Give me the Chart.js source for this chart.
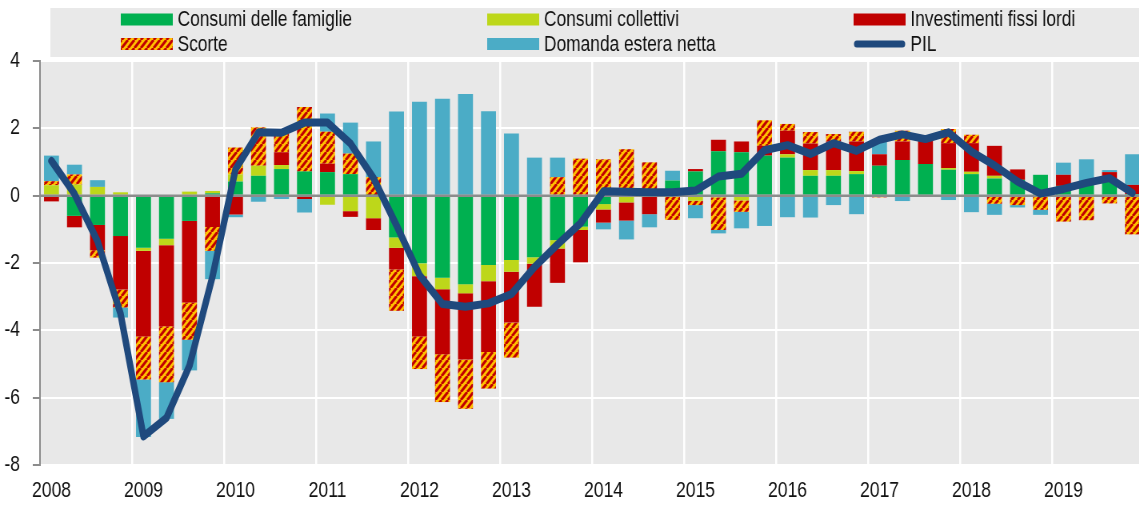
<!DOCTYPE html>
<html lang="it">
<head>
<meta charset="UTF-8">
<title>Contributi alla crescita del PIL</title>
<script src="https://cdn.jsdelivr.net/npm/chart.js@4.4.1/dist/chart.umd.min.js"></script>
<style>
  html, body { margin: 0; padding: 0; overflow: hidden; background: #fff; }
  /* the source picture is squeezed sideways: draw wide, squeeze back */
  #wrap { width: 1430px; height: 506px; transform: scaleX(0.8); transform-origin: 0 0; }
</style>
</head>
<body>
<div id="wrap"><canvas id="chart" width="1430" height="506"></canvas></div>

<script>
var years = ['2008', '2009', '2010', '2011', '2012', '2013', '2014', '2015', '2016', '2017', '2018', '2019'];
var quarters = [];
years.forEach(function (y) {
  ['T1', 'T2', 'T3', 'T4'].forEach(function (q) { quarters.push(y + ' ' + q); });
});

// contributi alla crescita tendenziale del PIL (punti percentuali)
var famiglie = [0, -0.6, -0.87, -1.2, -1.55, -1.28, -0.75, 0.07, 0.42, 0.59, 0.79, 0.72,
  0.7, 0.64, 0.02, -1.24, -2.01, -2.44, -2.63, -2.06, -1.91, -1.83, -1.32, -0.92,
  -0.25, 0, 0, 0.45, 0.72, 1.32, 1.29, 1.19, 1.13, 0.59, 0.59, 0.64,
  0.89, 1.06, 0.94, 0.77, 0.64, 0.51, 0.47, 0.62, 0.29, 0.32, 0.47, 0.05];
var collettivi = [0.31, 0.33, 0.26, 0.1, -0.09, -0.19, 0.12, 0.07, 0.21, 0.3, 0.12, 0,
  -0.27, -0.46, -0.67, -0.31, -0.38, -0.34, -0.27, -0.48, -0.35, -0.19, -0.25, -0.1,
  -0.16, -0.2, 0, -0.03, -0.15, -0.05, -0.14, 0, 0.1, 0.17, 0.17, 0.09,
  0, -0.03, 0, 0.05, 0.07, 0.08, 0, 0, -0.03, 0, 0, 0];
var investimenti = [-0.17, -0.34, -0.75, -1.59, -2.54, -2.41, -2.42, -0.93, -0.56, 0, 0.38, -0.1,
  0.25, -0.17, -0.35, -0.64, -1.79, -1.93, -1.97, -2.1, -1.51, -1.28, -1.02, -0.96,
  -0.39, -0.54, -0.55, 0, 0.07, 0.34, 0.32, 0.29, 0.7, 0.79, 0.85, 0.88,
  0.34, 0.55, 0.74, 0.74, 0.85, 0.89, 0.31, 0, 0.33, 0, 0.23, 0.27];
var scorte = [0.12, 0.3, -0.22, -0.53, -1.28, -1.66, -1.11, -0.71, 0.8, 1.14, 0.68, 1.91,
  0.95, 0.61, 0.53, -1.23, -0.97, -1.42, -1.46, -1.09, -1.04, 0, 0.55, 1.1,
  1.08, 1.38, 0.99, -0.69, -0.13, -0.97, -0.34, 0.76, 0.2, 0.34, 0.22, 0.29,
  -0.05, 0.32, 0, 0.42, 0.25, -0.24, -0.28, -0.42, -0.74, -0.73, -0.23, -1.15];
var estera = [0.76, 0.29, 0.2, -0.3, -1.71, -1.09, -0.91, -0.84, -0.08, -0.18, -0.1, -0.4,
  0.54, 0.92, 1.06, 2.5, 2.79, 2.88, 3.02, 2.51, 1.85, 1.13, 0.58, 0,
  -0.2, -0.56, -0.39, 0.29, -0.39, -0.1, -0.49, -0.9, -0.64, -0.65, -0.28, -0.55,
  0.45, -0.13, 0, -0.13, -0.49, -0.33, -0.07, -0.15, 0.36, 0.76, 0.06, 0.91];
var pil = [1.03, 0.05, -1.35, -3.5, -7.15, -6.6, -5.05, -2.4, 0.78, 1.88, 1.87, 2.17,
  2.17, 1.55, 0.52, -0.88, -2.36, -3.22, -3.3, -3.2, -2.92, -2.12, -1.45, -0.82,
  0.13, 0.12, 0.1, 0.1, 0.15, 0.57, 0.65, 1.35, 1.5, 1.24, 1.56, 1.33,
  1.66, 1.82, 1.68, 1.88, 1.31, 0.9, 0.42, 0.06, 0.2, 0.38, 0.52, 0.08];

var FONT = '"Liberation Sans", Arial, sans-serif';
var canvas = document.getElementById('chart');

// yellow/red diagonal stripes for "Scorte"
function hatch() {
  var t = document.createElement('canvas');
  t.width = 8; t.height = 8;
  var g = t.getContext('2d');
  g.fillStyle = '#ffc000';
  g.fillRect(0, 0, 8, 8);
  g.strokeStyle = '#c00000';
  g.lineWidth = 3;
  g.beginPath();
  for (var k = -1; k <= 1; k++) {
    g.moveTo(k * 8, 8);
    g.lineTo(k * 8 + 8, 0);
  }
  g.stroke();
  return canvas.getContext('2d').createPattern(t, 'repeat');
}

var plotBackground = {
  id: 'plotBackground',
  beforeDraw: function (chart) {
    var a = chart.chartArea, c = chart.ctx;
    c.save();
    c.fillStyle = '#e8e8e8';
    c.fillRect(a.left, a.top, a.right - a.left, a.bottom - a.top);
    c.restore();
  }
};

// zero line goes over the bars but under the PIL line
var zeroLine = {
  id: 'zeroLine',
  beforeDatasetDraw: function (chart, args) {
    if (chart.data.datasets[args.index].type !== 'line') return;
    var a = chart.chartArea, c = chart.ctx;
    var y0 = chart.scales.y.getPixelForValue(0);
    c.save();
    c.strokeStyle = '#8c8c8c';
    c.lineWidth = 2.5;
    c.beginPath();
    c.moveTo(a.left, y0);
    c.lineTo(a.right, y0);
    c.stroke();
    c.restore();
  }
};

// legend in a grey box, 2 rows x 3 columns
var legendBox = {
  id: 'legendBox',
  afterDraw: function (chart) {
    var c = chart.ctx;
    var colX = [151, 609, 1067];
    var rowY = [19.5, 44];
    c.save();
    c.fillStyle = '#e9e9e9';
    c.fillRect(63, 8, chart.width - 63, 49);
    c.font = '21.7px ' + FONT;
    c.textBaseline = 'middle';
    chart.data.datasets.forEach(function (ds, k) {
      var x = colX[k % 3], y = rowY[Math.floor(k / 3)];
      if (ds.type === 'line') {
        c.strokeStyle = ds.borderColor;
        c.lineWidth = 7;
        c.lineCap = 'round';
        c.beginPath();
        c.moveTo(x + 4, y);
        c.lineTo(x + 61, y);
        c.stroke();
      } else {
        c.fillStyle = ds.backgroundColor;
        c.fillRect(x, y - 6, 65, 12);
      }
      c.fillStyle = '#111';
      c.fillText(ds.label, x + 71, y + 1);
    });
    c.restore();
  }
};

new Chart(canvas, {
  data: {
    labels: quarters,
    datasets: [
      { type: 'bar', label: 'Consumi delle famiglie', data: famiglie, backgroundColor: '#00b050', stack: 'contributi', order: 1 },
      { type: 'bar', label: 'Consumi collettivi', data: collettivi, backgroundColor: '#bdd71a', stack: 'contributi', order: 1 },
      { type: 'bar', label: 'Investimenti fissi lordi', data: investimenti, backgroundColor: '#c00000', stack: 'contributi', order: 1 },
      { type: 'bar', label: 'Scorte', data: scorte, backgroundColor: hatch(), stack: 'contributi', order: 1 },
      { type: 'bar', label: 'Domanda estera netta', data: estera, backgroundColor: '#4bacc6', stack: 'contributi', order: 1 },
      { type: 'line', label: 'PIL', data: pil, borderColor: '#1f497d', borderWidth: 8, pointRadius: 0,
        tension: 0, borderJoinStyle: 'round', borderCapStyle: 'round', stack: 'pil', order: 0 }
    ]
  },
  options: {
    responsive: false,
    animation: false,
    layout: { padding: { top: 61, left: 0, right: 0, bottom: 0 } },
    datasets: { bar: { categoryPercentage: 1, barPercentage: 0.65 } },
    plugins: { legend: { display: false }, tooltip: { enabled: false } },
    scales: {
      x: {
        stacked: true,
        offset: true,
        grid: {
          offset: true,
          drawTicks: false,
          lineWidth: 2.5,
          color: function (ctx) { return ctx.index > 0 && ctx.index % 4 === 0 ? '#ffffff' : 'rgba(0,0,0,0)'; }
        },
        border: { display: false },
        ticks: {
          autoSkip: false,
          maxRotation: 0,
          padding: 13,
          color: '#111',
          font: { family: FONT, size: 22 },
          callback: function (v, i) { return i % 4 === 0 ? years[i / 4] : ''; }
        },
        afterFit: function (s) { s.height = 41; }
      },
      y: {
        stacked: true,
        min: -8,
        max: 4,
        ticks: { stepSize: 2, padding: 16, color: '#111', font: { family: FONT, size: 22 } },
        grid: {
          lineWidth: 2,
          tickLength: 9,
          tickWidth: 2,
          tickColor: '#8c8c8c',
          color: function (ctx) { return ctx.tick && ctx.tick.value === 0 ? 'rgba(0,0,0,0)' : '#ffffff'; }
        },
        border: { color: '#8c8c8c', width: 2 },
        afterFit: function (s) { s.width = 50; }
      }
    }
  },
  plugins: [plotBackground, zeroLine, legendBox]
});
</script>
</body>
</html>
